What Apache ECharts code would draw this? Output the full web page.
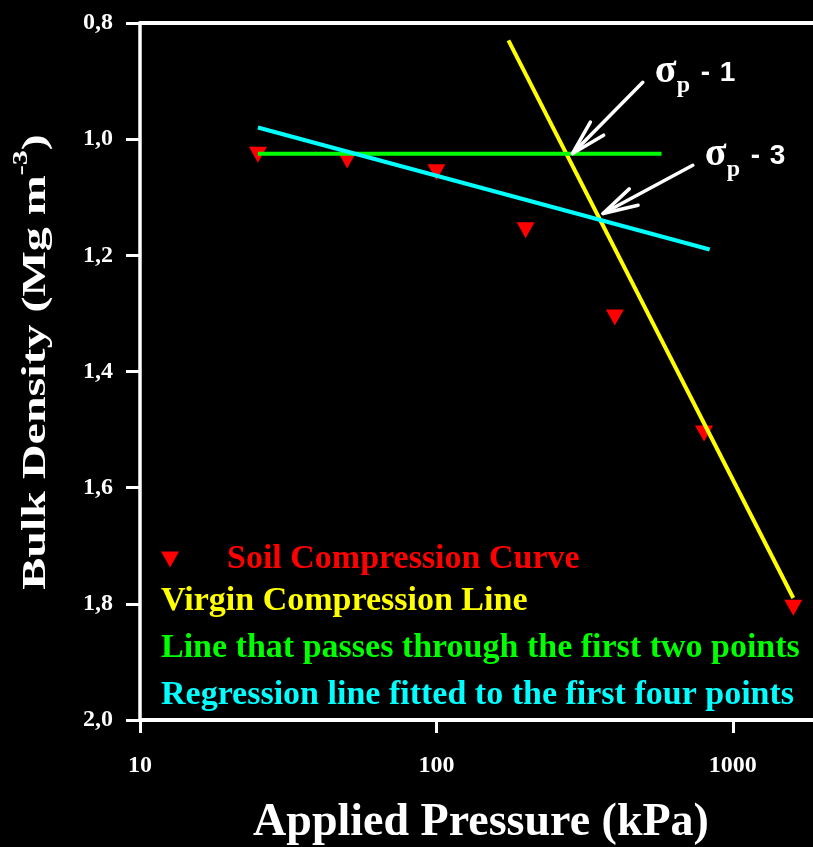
<!DOCTYPE html>
<html>
<head>
<meta charset="utf-8">
<script src="https://cdn.jsdelivr.net/npm/echarts@6/dist/echarts.min.js"></script>
<style>
html,body{margin:0;padding:0;background:#000;overflow:hidden;width:813px;height:847px;}
#chart{width:822px;height:847px;}
</style>
</head>
<body>
<div id="chart"></div>
<script>
// ---- data ----
const pressure = [25, 50, 100, 200, 400, 800, 1600];           // kPa
const bulkDensity = [1.02, 1.03, 1.05, 1.15, 1.30, 1.50, 1.80]; // Mg m-3

const virginLineX = [175, 1600];
const virginLineY = [0.83, 1.79];
const firstTwoLineX = [25, 575];
const firstTwoLineY = [1.025, 1.025];
const regressionLineX = [25, 836];
const regressionLineY = [0.98, 1.19];

const xTickValues = [10, 100, 1000];
const yTickValues = [0.8, 1.0, 1.2, 1.4, 1.6, 1.8, 2.0];

const seriesNames = [
  'Soil Compression Curve',
  'Virgin Compression Line',
  'Line that passes through the first two points',
  'Regression line fitted to the first four points'
];
const seriesColors = ['#ff0000', '#ffff00', '#00ff00', '#00ffff'];

const arrowLabels = ['1', '3'];
const arrowTips = [[288, 1.0245], [365, 1.128]];
const arrowTails = [[497, 0.902], [733, 1.045]];

const xAxisTitle = 'Applied Pressure (kPa)';
// ---------------------------------------

const SERIF = '"Liberation Serif", "Times New Roman", serif';
const SANS = '"Liberation Sans", Arial, sans-serif';
const DOWN_TRIANGLE = 'path://M0,0L18,0L9,16Z';

const chart = echarts.init(document.getElementById('chart'), null, {renderer: 'canvas'});

function pair(xs, ys) { return xs.map((x, i) => [x, ys[i]]); }

const lineSets = [
  pair(virginLineX, virginLineY),
  pair(firstTwoLineX, firstTwoLineY),
  pair(regressionLineX, regressionLineY)
];

const series = [
  {
    type: 'scatter',
    name: seriesNames[0],
    data: pair(pressure, bulkDensity),
    symbol: DOWN_TRIANGLE,
    symbolSize: [18, 16],
    symbolOffset: [0, 4],
    itemStyle: {color: seriesColors[0], opacity: 1},
    z: 2,
    silent: true
  }
];
lineSets.forEach((d, i) => {
  series.push({
    type: 'line',
    name: seriesNames[i + 1],
    data: d,
    symbol: 'none',
    showSymbol: false,
    lineStyle: {color: seriesColors[i + 1], width: 4},
    itemStyle: {color: seriesColors[i + 1]},
    z: 3,
    silent: true
  });
});

series.push({
  type: 'custom',
  coordinateSystem: 'cartesian2d',
  silent: true,
  z: 5,
  data: arrowTips.map((t, i) => [t[0], t[1], arrowTails[i][0], arrowTails[i][1], i]),
  renderItem: function (params, api) {
    const tip = api.coord([api.value(0), api.value(1)]);
    const tail = api.coord([api.value(2), api.value(3)]);
    const idx = api.value(4);
    const ang = Math.atan2(tail[1] - tip[1], tail[0] - tip[0]);
    const hl = 36, ha = 15 * Math.PI / 180;
    const h1 = [tip[0] + hl * Math.cos(ang - ha), tip[1] + hl * Math.sin(ang - ha)];
    const h2 = [tip[0] + hl * Math.cos(ang + ha), tip[1] + hl * Math.sin(ang + ha)];
    const stroke = {stroke: '#ffffff', lineWidth: 3.5, lineCap: 'round', lineJoin: 'round', fill: 'none'};
    const sx = tail[0] + 12, base = tail[1] + 0.5;
    function txt(x, y, s, font) {
      return {type: 'text', x: x, y: y, style: {
        text: s, font: font, fill: '#ffffff',
        align: 'left', verticalAlign: 'middle', textAlign: 'left', textVerticalAlign: 'middle'
      }};
    }
    return {
      type: 'group',
      children: [
        {type: 'line', shape: {x1: tail[0], y1: tail[1], x2: tip[0], y2: tip[1]}, style: stroke},
        {type: 'polyline', shape: {points: [h1, tip, h2]}, style: stroke},
        txt(sx, base - 11.5, 'σ', 'bold 40px ' + SERIF),
        txt(sx + 22, base + 3.5, 'p', 'bold 24px ' + SERIF),
        txt(sx + 46, base - 9.7, '-', 'bold 28px ' + SANS),
        txt(sx + 65, base - 9.7, arrowLabels[idx], 'bold 28px ' + SANS)
      ]
    };
  }
});

const option = {
  backgroundColor: '#000000',
  animation: false,
  grid: {left: 140, top: 23, right: 0, bottom: 127, containLabel: false, outerBoundsMode: 'none'},
  xAxis: [
    {
      type: 'log', logBase: 10, min: 10, max: 2000,
      position: 'bottom',
      name: xAxisTitle,
      nameLocation: 'middle',
      nameGap: 80,
      nameTextStyle: {color: '#ffffff', fontFamily: SERIF, fontWeight: 'bold', fontSize: 46},
      axisLine: {show: true, lineStyle: {color: '#ffffff', width: 4}},
      axisTick: {show: true, length: 13, lineStyle: {color: '#ffffff', width: 3}},
      axisLabel: {
        color: '#ffffff', fontFamily: SERIF, fontWeight: 'bold', fontSize: 24, margin: 34,
        showMaxLabel: false,
        formatter: v => (xTickValues.indexOf(v) >= 0 ? String(v) : '')
      },
      splitLine: {show: false},
      minorTick: {show: false}
    },
    {
      type: 'log', logBase: 10, min: 10, max: 2000,
      position: 'top',
      axisLine: {show: true, lineStyle: {color: '#ffffff', width: 4}},
      axisTick: {show: false},
      axisLabel: {show: false},
      splitLine: {show: false}
    }
  ],
  yAxis: {
    type: 'value', inverse: true, min: 0.8, max: 2.0, interval: 0.2,
    axisLine: {show: true, lineStyle: {color: '#ffffff', width: 3.5}},
    axisTick: {show: true, length: 14, lineStyle: {color: '#ffffff', width: 3}},
    axisLabel: {
      color: '#ffffff', fontFamily: SERIF, fontWeight: 'bold', fontSize: 24, margin: 27,
      formatter: v => {
        const m = yTickValues.find(t => Math.abs(t - v) < 1e-6);
        return m === undefined ? '' : m.toFixed(1).replace('.', ',');
      }
    },
    splitLine: {show: false}
  },
  legend: [
    {
      data: [{name: seriesNames[0], icon: DOWN_TRIANGLE, textStyle: {color: seriesColors[0]}}],
      orient: 'vertical', left: 161, top: 536.5, padding: 0,
      itemWidth: 18, itemHeight: 16,
      selectedMode: false,
      itemStyle: {opacity: 1},
      textStyle: {fontFamily: SERIF, fontWeight: 'bold', fontSize: 34, lineHeight: 46, padding: [0, 0, 0, 43]}
    },
    {
      data: seriesNames.slice(1).map((n, i) => ({name: n, textStyle: {color: seriesColors[i + 1]}})),
      orient: 'vertical', left: 156, top: 578.5, padding: 0,
      icon: 'rect', itemWidth: 0, itemHeight: 14, itemGap: 1,
      itemStyle: {opacity: 0},
      selectedMode: false,
      textStyle: {fontFamily: SERIF, fontWeight: 'bold', fontSize: 34, lineHeight: 46}
    }
  ],
  graphic: [
    {
      type: 'text',
      x: 36, y: 362,
      rotation: Math.PI / 2,
      scaleX: 1, scaleY: 0.72,
      silent: true,
      style: {
        text: '{a|Bulk Density (Mg m}{s|-3}{a|)}',
        align: 'center', verticalAlign: 'middle', textAlign: 'center', textVerticalAlign: 'middle',
        rich: {
          a: {fontFamily: SERIF, fontWeight: 'bold', fontSize: 48, fill: '#ffffff', lineHeight: 70},
          s: {fontFamily: SERIF, fontWeight: 'bold', fontSize: 30, fill: '#ffffff', lineHeight: 22, verticalAlign: 'top'}
        }
      }
    }
  ],
  series: series
};

chart.setOption(option);
</script>
</body>
</html>
